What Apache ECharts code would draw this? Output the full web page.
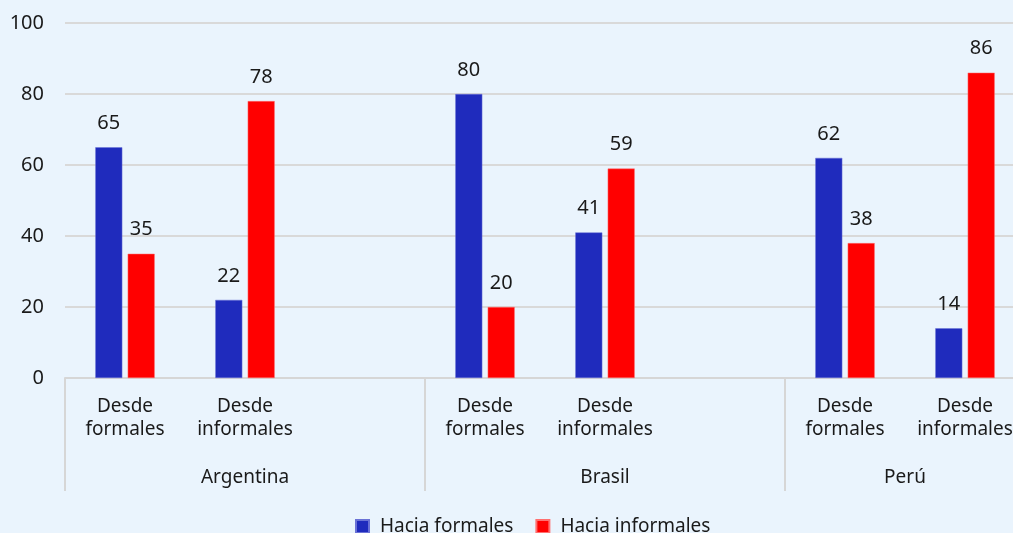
<!DOCTYPE html>
<html>
<head>
<meta charset="utf-8">
<script src="https://cdn.jsdelivr.net/npm/echarts@6/dist/echarts.min.js"></script>
<style>
html,body{margin:0;padding:0;background:#eaf4fd;}
#c{width:1013px;height:533px;}
</style>
</head>
<body>
<div id="c"></div>
<script>
const categories = ['Desde\nformales', 'Desde\ninformales', '', 'Desde\nformales', 'Desde\ninformales', '', 'Desde\nformales', 'Desde\ninformales'];
const countries = ['Argentina', 'Brasil', 'Perú'];
const countryLabelSlots = [3, 9, 14];
const countrySeparatorSlots = [0, 6, 12];
const haciaFormales = [65, 22, null, 80, 41, null, 62, 14];
const haciaInformales = [35, 78, null, 20, 59, null, 38, 86];
const yTicks = [0, 20, 40, 60, 80, 100];

const font = '"Noto Sans", "Open Sans", sans-serif';
const txt = '#1a1a1a';
const halfSlots = [];
for (let i = 0; i <= categories.length * 2; i++) {
  const idx = countryLabelSlots.indexOf(i);
  halfSlots.push(idx >= 0 ? countries[idx] : '');
}

const chart = echarts.init(document.getElementById('c'), null, {renderer: 'canvas'});
chart.setOption({
  backgroundColor: '#eaf4fd',
  textStyle: {fontFamily: font},
  grid: {left: 65, width: 960, top: 23, bottom: 155, containLabel: false, outerBoundsMode: 'none'},
  legend: {
    top: 512, left: 350,
    itemWidth: 13, itemHeight: 13, itemGap: 22,
    icon: 'rect',
    textStyle: {fontFamily: font, fontSize: 19, color: txt, padding: [0, 0, 0, 6]},
    data: ['Hacia formales', 'Hacia informales']
  },
  xAxis: [
    {
      type: 'category',
      data: categories,
      axisLine: {lineStyle: {color: '#d6d6d6', width: 2}},
      axisTick: {show: false},
      axisLabel: {interval: 0, fontFamily: font, fontSize: 19, color: txt, margin: 17, lineHeight: 23}
    },
    {
      type: 'category',
      position: 'bottom',
      boundaryGap: false,
      data: halfSlots,
      axisLine: {show: false},
      axisTick: {
        show: true,
        length: 113,
        interval: function (i) { return countrySeparatorSlots.indexOf(i) >= 0; },
        lineStyle: {color: '#d6d6d6', width: 2}
      },
      axisLabel: {
        interval: function (i) { return countryLabelSlots.indexOf(i) >= 0; },
        fontFamily: font, fontSize: 19, color: txt, margin: 90
      },
      splitLine: {show: false}
    }
  ],
  yAxis: {
    type: 'value',
    min: yTicks[0], max: yTicks[yTicks.length - 1], interval: 20,
    axisLine: {show: false},
    axisTick: {show: false},
    axisLabel: {fontFamily: font, fontSize: 20, color: txt, margin: 21},
    splitLine: {lineStyle: {color: '#d9d9d9', width: 2}}
  },
  series: [
    {
      name: 'Hacia formales', type: 'bar', data: haciaFormales,
      barWidth: 27, barGap: '20%',
      itemStyle: {color: '#1f2bbd', borderColor: '#6a72d6', borderWidth: 0.5},
      label: {show: true, position: 'top', distance: 14, fontFamily: font, fontSize: 20, color: txt}
    },
    {
      name: 'Hacia informales', type: 'bar', data: haciaInformales,
      barWidth: 27, barGap: '20%',
      itemStyle: {color: '#ff0000', borderColor: '#ff7070', borderWidth: 0.5},
      label: {show: true, position: 'top', distance: 14, fontFamily: font, fontSize: 20, color: txt}
    }
  ]
});
</script>
</body>
</html>
